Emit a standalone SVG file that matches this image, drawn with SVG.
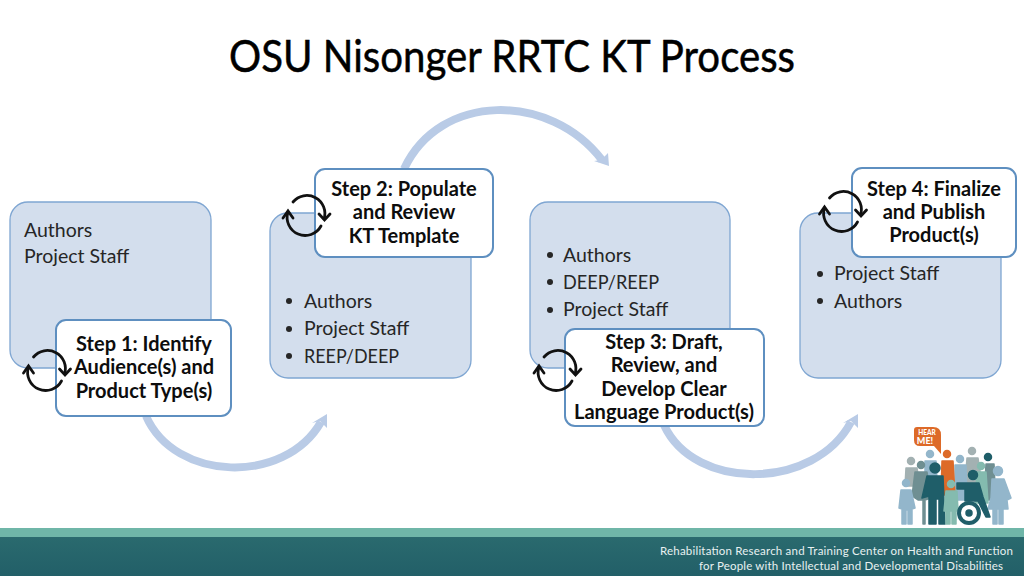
<svg xmlns="http://www.w3.org/2000/svg" width="1024" height="576" viewBox="0 0 1024 576">
<style>
text{font-family:Lato,"Open Sans","Liberation Sans",sans-serif;fill:#262626}
.pane{fill:#D3DEED;stroke:#7FA6D2;stroke-width:1.3}
.step{fill:#fff;stroke:#5E8FC0;stroke-width:2}
.sl{font-weight:700;font-size:20px;text-anchor:middle;fill:#0d0d0d}
.it{font-size:19.500px;fill:#262626}
.dot{fill:#262626}
.flow{fill:none;stroke:#B9CBE6;stroke-width:8}
.head{fill:#B9CBE6}
.cyc{fill:none;stroke:#111;stroke-width:2.8;stroke-linecap:round}
.foot{font-size:11.500px;fill:#E8F1F1}
.t1,.t2,.t3,.t4,.t5,.t6{stroke-width:1.500;stroke-linejoin:round}
.t1{fill:#93B6CB;stroke:#93B6CB}.t2{fill:#A3B1B2;stroke:#A3B1B2}.t3{fill:#1F5E69;stroke:#1F5E69}.t4{fill:#DD6A28;stroke:#DD6A28}.t5{fill:#84BBAF;stroke:#84BBAF}.t6{fill:#6F8F92;stroke:#6F8F92}
</style>
<defs>
<g id="cycle">
<path class="cyc" d="M-18 -3A18 18 0 0 0 15 11"/>
<path class="cyc" d="M-13 -13A18 18 0 0 1 18 4"/>
<path class="cyc" d="M-23 3L-18 -4L-13 3"/>
<path class="cyc" d="M13 -1L18.500 5L24 -1"/>
</g>
<linearGradient id="band" x1="0" y1="0" x2="0" y2="1"><stop offset="0" stop-color="#2A6A6E"/><stop offset="1" stop-color="#225F68"/></linearGradient>
</defs>
<rect width="1024" height="576" fill="#fff"/>
<text x="229" y="72" textLength="566" lengthAdjust="spacingAndGlyphs" style="font-size:44px;fill:#000;stroke:#000;stroke-width:.5">OSU Nisonger RRTC KT Process</text>

<g id="connectors">
<path class="flow" d="M146 416C175 482 285 485 321 422"/>
<polygon class="head" points="327,414 327,428 320,421 312,423"/>
<path class="flow" d="M404 169C440 92 550 92 602 160"/>
<polygon class="head" points="609,166 608,153 601,160 594,161"/>
<path class="flow" d="M664 425C695 492 815 490 851 422"/>
<polygon class="head" points="858,414 858,428 851,421 843,423"/>
</g>

<g id="team-1">
<rect class="pane" x="10" y="202" width="201" height="166" rx="18"/>
<text class="it" x="24" y="237">Authors</text>
<text class="it" x="24" y="263">Project Staff</text>
</g>
<g id="step-1">
<rect class="step" x="56" y="320" width="175" height="96" rx="10"/>
<text class="sl" x="144" y="351">Step 1: Identify</text>
<text class="sl" x="144" y="374">Audience(s) and</text>
<text class="sl" x="144" y="398">Product Type(s)</text>
<use href="#cycle" x="46.500" y="370"/>
</g>

<g id="team-2">
<rect class="pane" x="270" y="213" width="201" height="165" rx="18"/>
<circle class="dot" cx="289" cy="301" r="3"/><text class="it" x="304" y="308">Authors</text>
<circle class="dot" cx="289" cy="329" r="3"/><text class="it" x="304" y="335">Project Staff</text>
<circle class="dot" cx="289" cy="356" r="3"/><text class="it" x="304" y="363" textLength="95" lengthAdjust="spacingAndGlyphs">REEP/DEEP</text>
</g>
<g id="step-2">
<rect class="step" x="315" y="169" width="178" height="88" rx="10"/>
<text class="sl" x="404" y="196">Step 2: Populate</text>
<text class="sl" x="404" y="219">and Review</text>
<text class="sl" x="404" y="243">KT Template</text>
<use href="#cycle" x="306" y="215"/>
</g>

<g id="team-3">
<rect class="pane" x="530" y="202" width="200" height="166" rx="18"/>
<circle class="dot" cx="550" cy="255" r="3"/><text class="it" x="563" y="262">Authors</text>
<circle class="dot" cx="550" cy="282" r="3"/><text class="it" x="563" y="289" textLength="96" lengthAdjust="spacingAndGlyphs">DEEP/REEP</text>
<circle class="dot" cx="550" cy="310" r="3"/><text class="it" x="563" y="316">Project Staff</text>
</g>
<g id="step-3">
<rect class="step" x="565" y="329" width="199" height="97" rx="10"/>
<text class="sl" x="664" y="349">Step 3: Draft,</text>
<text class="sl" x="664" y="372">Review, and</text>
<text class="sl" x="664" y="396">Develop Clear</text>
<text class="sl" x="664" y="419" textLength="180" lengthAdjust="spacingAndGlyphs">Language Product(s)</text>
<use href="#cycle" x="557" y="370"/>
</g>

<g id="team-4">
<rect class="pane" x="800" y="213" width="201" height="165" rx="18"/>
<circle class="dot" cx="820" cy="274" r="3"/><text class="it" x="834" y="280">Project Staff</text>
<circle class="dot" cx="820" cy="301" r="3"/><text class="it" x="834" y="308">Authors</text>
</g>
<g id="step-4">
<rect class="step" x="852" y="168" width="164" height="89" rx="10"/>
<text class="sl" x="934" y="196">Step 4: Finalize</text>
<text class="sl" x="934" y="219">and Publish</text>
<text class="sl" x="934" y="242">Product(s)</text>
<use href="#cycle" x="842.500" y="211"/>
</g>

<g id="footer">
<rect y="528" width="1024" height="9" fill="#6FB6A8"/>
<rect y="537" width="1024" height="39" fill="url(#band)"/>
<text class="foot" x="660" y="555" textLength="353" lengthAdjust="spacing">Rehabilitation Research and Training Center on Health and Function</text>
<text class="foot" x="699" y="570" textLength="304" lengthAdjust="spacing">for People with Intellectual and Developmental Disabilities</text>
</g>

<g id="crowd">
<path d="M917 427H933Q941 427 941 435V454L934 446H920Q914 446 914 440V430Q914 427 917 427Z" fill="#DD6A28"/>
<text x="927" y="435" text-anchor="middle" style="font-size:6.500px;font-weight:900;fill:#fff">HEAR</text>
<text x="925" y="444" text-anchor="middle" style="font-size:9px;font-weight:900;fill:#fff">ME!</text>
<circle class="t2" cx="911" cy="461" r="3.500"/><path class="t2" d="M906 468H917L920 486H905Z"/>
<circle class="t2" cx="972" cy="451" r="3.500"/><path class="t2" d="M967 458H978L982 484H965Z"/>
<circle class="t1" cx="930" cy="454" r="3.500"/><path class="t1" d="M925 461H936L937 480H925Z"/>
<circle class="t1" cx="960" cy="459" r="3.500"/><path class="t1" d="M955 465H966L967 500H955Z"/>
<circle class="t3" cx="988" cy="457" r="3.500"/><path class="t6" d="M986 464H994L995 486L990 500L984 500Z"/>
<circle class="t4" cx="947" cy="454" r="3.500"/><path class="t4" d="M942 461H953L955 495H941Z"/>
<circle class="t5" cx="981" cy="466" r="3.500"/><path class="t5" d="M977 472H986L988 503H975Z"/>
<circle class="t6" cx="921" cy="465" r="3.500"/><path class="t6" d="M915 472H927L931 498L925 500V524H923V500H918L912 496Z"/>
<circle class="t1" cx="906" cy="483" r="3.500"/><path class="t1" d="M901 490H911L915 508L912 509V524H908V510H906V524H902V509L899 508Z"/>
<circle class="t1" cx="998" cy="471" r="4.500"/><path class="t1" d="M992 479H1004L1011 498L1007 500L1008 509H1003V524H999V509H997V524H993V509H988L991 498Z"/>
<circle class="t3" cx="935" cy="468" r="5"/><path class="t3" d="M927 476H943L945 524H939V499H936V524H929V496L922 498Z"/>
<circle class="t5" cx="951" cy="484" r="3.500"/><path class="t5" d="M946 491H957L958 511H956V524H952V511H950V524H946V511H944Z"/>
<circle class="t3" cx="973" cy="475" r="4.500"/><path class="t3" d="M957 483H979L983 497L990 517H986L978 501H965V489H957Z"/>
<circle fill="#fff" stroke="#1F5E69" stroke-width="4" cx="969" cy="513" r="10"/>
<circle class="t3" cx="969" cy="513" r="3"/>
</g>
</svg>
